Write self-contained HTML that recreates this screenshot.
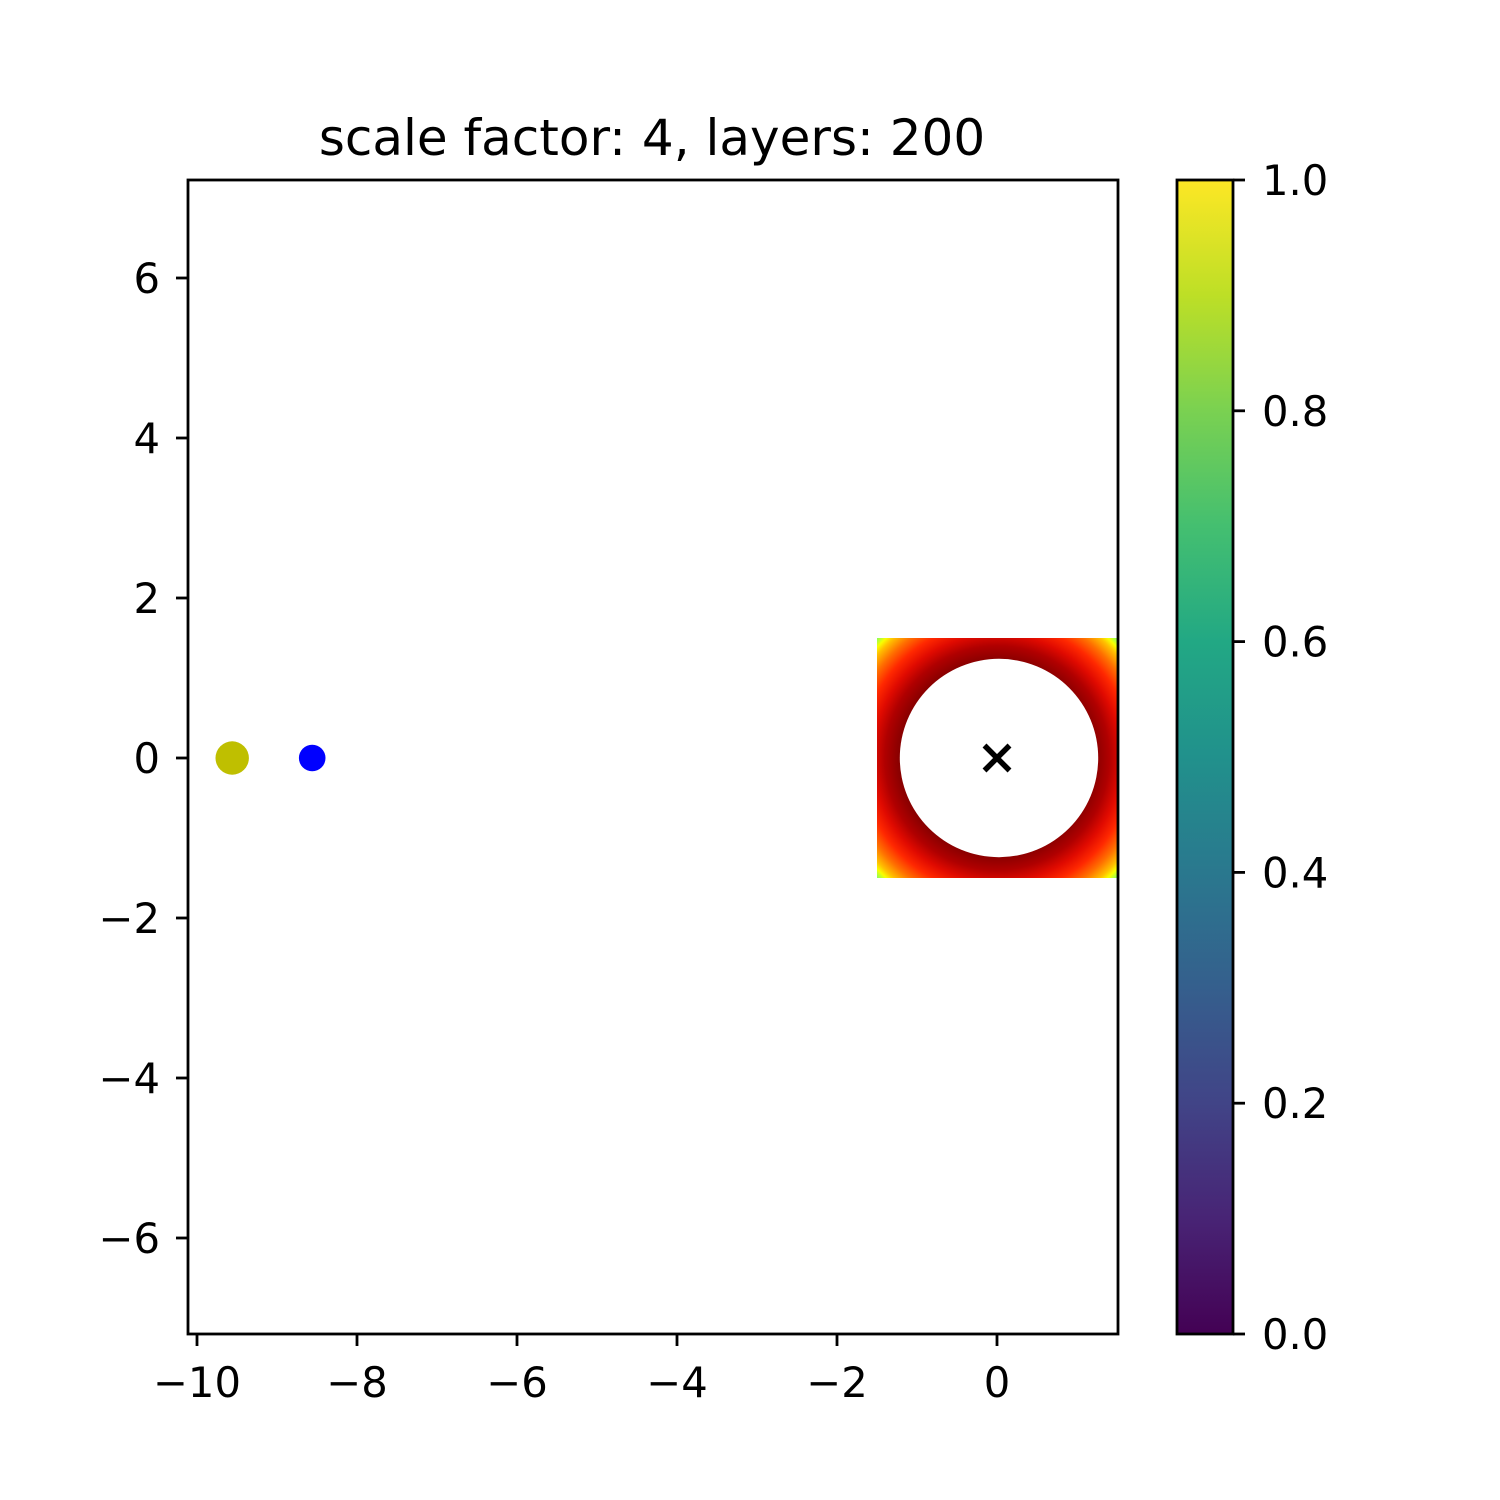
<!DOCTYPE html>
<html><head><meta charset="utf-8"><style>
html,body{margin:0;padding:0;background:#fff}
svg{display:block}
text{font-family:"DejaVu Sans","Liberation Sans",sans-serif;fill:#000}
</style></head><body>
<svg id="chart" width="1500" height="1500" viewBox="0 0 1500 1500" xmlns="http://www.w3.org/2000/svg">
<defs>
<linearGradient id="viridis" x1="0" y1="1" x2="0" y2="0">
<stop offset="0" stop-color="#440154"/><stop offset="0.1" stop-color="#482475"/><stop offset="0.2" stop-color="#414487"/><stop offset="0.3" stop-color="#355f8d"/><stop offset="0.4" stop-color="#2a788e"/><stop offset="0.5" stop-color="#21918c"/><stop offset="0.6" stop-color="#22a884"/><stop offset="0.7" stop-color="#44bf70"/><stop offset="0.8" stop-color="#7ad151"/><stop offset="0.9" stop-color="#bddf26"/><stop offset="1" stop-color="#fde725"/>
</linearGradient>
<radialGradient id="heat" gradientUnits="userSpaceOnUse" cx="997" cy="758" r="170">
<stop offset="0" stop-color="#8a0000"/><stop offset="0.58" stop-color="#8a0000"/><stop offset="0.66" stop-color="#b00000"/><stop offset="0.73" stop-color="#e00a00"/><stop offset="0.80" stop-color="#ff2800"/><stop offset="0.87" stop-color="#ff7000"/><stop offset="0.93" stop-color="#ffc000"/><stop offset="0.96" stop-color="#f8ff00"/><stop offset="1" stop-color="#80ff60"/>
</radialGradient>
<clipPath id="axclip"><rect x="188" y="180" width="930" height="1154"/></clipPath>
</defs>
<text x="652" y="155" font-size="50" text-anchor="middle">scale factor: 4, layers: 200</text>
<g id="plot" clip-path="url(#axclip)"></g>
<rect x="188" y="180" width="930" height="1154" fill="none" stroke="#000" stroke-width="2.8"/>
<g id="axes"></g>
<rect x="1177" y="180" width="56" height="1154" fill="url(#viridis)" stroke="#000" stroke-width="2.8"/>
<g id="cbar"></g>
</svg>
<script>
const xTicks = [-10, -8, -6, -4, -2, 0];
const yTicks = [-6, -4, -2, 0, 2, 4, 6];
const cbarTicks = [0.0, 0.2, 0.4, 0.6, 0.8, 1.0];
const pointX = [-9.56, -8.56];
const pointY = [0, 0];
const pointColors = ['#bfbf00', '#0000ff'];
const pointRadius = [16.7, 13.3];
const targetX = [0];
const targetY = [0];
const regionHalf = [1.5];
const innerRadius = [1.24];

const NS = 'http://www.w3.org/2000/svg';
const xs = v => 997 + v * 80;
const ys = v => 758 - v * 80;
const cs = v => 1334 - v * 1154;
const fmt = v => (v < 0 ? '\u2212' : '') + Math.abs(v);
function mk(tag, attrs, parent) {
  const e = document.createElementNS(NS, tag);
  for (const k in attrs) e.setAttribute(k, attrs[k]);
  parent.appendChild(e);
  return e;
}
const plot = document.getElementById('plot');
const axes = document.getElementById('axes');
const cbar = document.getElementById('cbar');

const h = regionHalf[0];
const reg = mk('rect', {x: xs(targetX[0] - h), y: ys(targetY[0] + h), width: xs(h) - xs(-h), height: ys(-h) - ys(h), fill: 'url(#heat)'}, plot);


const hole = mk('circle', {cx: xs(targetX[0]) + 2, cy: ys(targetY[0]), r: innerRadius[0] * 80, fill: '#fff'}, plot);



pointX.forEach((v, i) => {
  const c = mk('circle', {cx: xs(v), cy: ys(pointY[i]), r: pointRadius[i], fill: pointColors[i]}, plot);
  
  
});
targetX.forEach((v, i) => {
  const cx = xs(v), cy = ys(targetY[i]), s = 12.5;
  const p = mk('path', {d: `M${cx-s},${cy-s}L${cx+s},${cy+s}M${cx-s},${cy+s}L${cx+s},${cy-s}`, stroke: '#000', 'stroke-width': 5.5, fill: 'none'}, plot);
  
  
});

xTicks.forEach(v => {
  const x = xs(v);
  const t = mk('line', {x1: x, x2: x, y1: 1334, y2: 1346, stroke: '#000', 'stroke-width': 2.8}, axes);
  
  
  const l = mk('text', {x: x, y: 1397, 'font-size': 41.7, 'text-anchor': 'middle'}, axes);
  l.textContent = fmt(v);
  
  
});
yTicks.forEach(v => {
  const y = ys(v);
  const t = mk('line', {x1: 176, x2: 188, y1: y, y2: y, stroke: '#000', 'stroke-width': 2.8}, axes);
  
  
  const l = mk('text', {x: 160, y: y + 15, 'font-size': 41.7, 'text-anchor': 'end'}, axes);
  l.textContent = fmt(v);
  
  
});
cbarTicks.forEach(v => {
  const y = cs(v);
  const t = mk('line', {x1: 1233, x2: 1245, y1: y, y2: y, stroke: '#000', 'stroke-width': 2.8}, cbar);
  
  
  const l = mk('text', {x: 1262, y: y + 15, 'font-size': 41.7}, cbar);
  l.textContent = v.toFixed(1);
  
  
});
</script>
</body></html>
